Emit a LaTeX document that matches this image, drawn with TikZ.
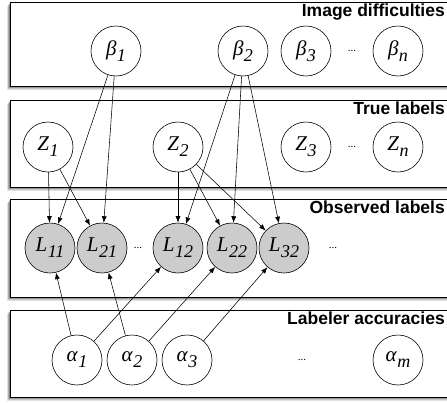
\documentclass[tikz,border=0pt]{standalone}
\usepackage{fontspec}
\setmainfont{Liberation Serif}
\newfontfamily\hvfont{Liberation Sans}
\usetikzlibrary{arrows.meta}
\newcommand\gsub[2]{{\itshape #1\kern0.5pt\raisebox{-6pt}{\fontsize{18}{18}\selectfont #2}}}
\begin{document}
\begin{tikzpicture}[x=1pt,y=-1pt,
  var/.style={circle,draw,line width=0.6pt,minimum size=50pt,inner sep=0pt,fill=white,font=\fontsize{21}{21}\selectfont},
  obs/.style={var,fill=black!20},
  dots/.style={inner sep=0pt,font=\fontsize{11}{11}\selectfont},
  arr/.style={line width=0.55pt,-{Latex[length=6.5pt,width=5pt]}},
  title/.style={anchor=north east,inner sep=0pt,font=\hvfont\bfseries\fontsize{17.5}{17.5}\selectfont},
  frame/.style={draw,line width=0.8pt,fill=white}]
\useasboundingbox (0,0) rectangle (447,402);
% shadowed boxes
\foreach \t/\b in {2/86,100/187,199/297,310/397}{
  \foreach \k in {0.6,1.2,1.8,2.4,3.0,3.6}{
    \fill[black,opacity=0.12] (10-\k*0.8,\t+\k) rectangle (470,\b+\k);
  }
  \draw[frame] (10,\t) rectangle (470,\b);
}
\node[title] (t1) at (445,4) {Image difficulties};
\node[title] (t2) at (445,102) {True labels};
\node[title] (t3) at (445,201) {Observed labels};
\node[title] (t4) at (445,312) {Labeler accuracies};
% beta row
\node[var] (b1) at (116,51) {\gsub{β}{1}};
\node[var] (b2) at (243,51) {\gsub{β}{2}};
\node[var] (b3) at (306,51) {\gsub{β}{3}};
\node[dots] (bd) at (352,51) {...};
\node[var] (bn) at (398,51) {\gsub{β}{n}};
% z row
\node[var] (z1) at (48,147) {\gsub{Z}{1}};
\node[var] (z2) at (178,147) {\gsub{Z}{2}};
\node[var] (z3) at (306,147) {\gsub{Z}{3}};
\node[dots] (zd) at (352,147) {...};
\node[var] (zn) at (398,147) {\gsub{Z}{n}};
% L row
\node[obs] (l11) at (50,248) {\gsub{L}{11}};
\node[obs] (l21) at (102,248) {\gsub{L}{21}};
\node[dots] (ld1) at (138,248) {...};
\node[obs] (l12) at (178,248) {\gsub{L}{12}};
\node[obs] (l22) at (232,248) {\gsub{L}{22}};
\node[obs] (l32) at (284,248) {\gsub{L}{32}};
\node[dots] (ld2) at (333,248) {...};
% alpha row
\node[var] (a1) at (77,360) {\gsub{α}{1}};
\node[var] (a2) at (132,360) {\gsub{α}{2}};
\node[var] (a3) at (187,360) {\gsub{α}{3}};
\node[dots] (ad) at (302,360) {...};
\node[var] (am) at (398,360) {\gsub{α}{m}};
% edges
\draw[arr] (b1) -- (l11);
\draw[arr] (b1) -- (l21);
\draw[arr] (z1) -- (l11);
\draw[arr] (z1) -- (l21);
\draw[arr] (b2) -- (l12);
\draw[arr] (b2) -- (l22);
\draw[arr] (b2) -- (l32);
\draw[arr] (z2) -- (l12);
\draw[arr] (z2) -- (l22);
\draw[arr] (z2) -- (l32);
\draw[arr] (a1) -- (l11);
\draw[arr] (a1) -- (l12);
\draw[arr] (a2) -- (l21);
\draw[arr] (a2) -- (l22);
\draw[arr] (a3) -- (l32);
\end{tikzpicture}
\end{document}
